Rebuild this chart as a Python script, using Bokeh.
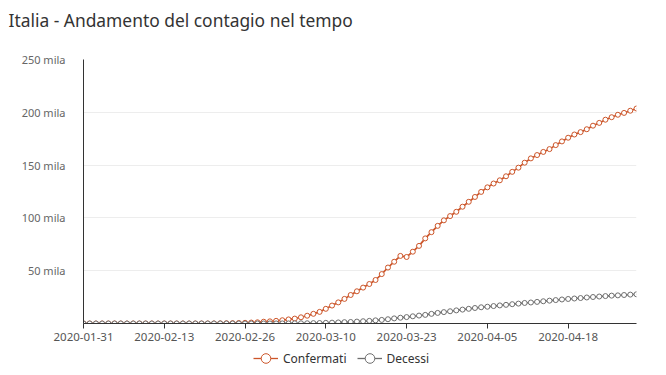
import pandas as pd
from bokeh.plotting import figure
from bokeh.layouts import column
from bokeh.models import Range1d, FixedTicker, Legend, LegendItem, ColumnDataSource
from bokeh.embed import file_html
from bokeh.resources import INLINE

# ---- data ----
dates = [d.strftime("%Y-%m-%d") for d in pd.date_range("2020-01-31", "2020-04-29", freq="D")]

confermati = [
    2,                                                    # Jan 31
    2, 2, 2, 2, 3, 3, 3, 3, 3, 3, 3, 3, 3, 3, 3, 3, 3, 3, 3,  # Feb 1-19
    20, 62, 155, 229, 322, 453, 655, 888, 1128, 1694,     # Feb 20-29
    2036, 2502, 3089, 3858, 4636, 5883, 7375, 9172, 11000, 13900,   # Mar 1-10
    17000, 20000, 23300, 27000, 30500, 34000, 37400, 41200, 46800, 53000,  # Mar 11-20
    58500, 64000, 63000, 68000, 73500, 80589, 86498, 92472, 97689, 101739, 105792,  # Mar 21-31
    110574, 115242, 119827, 124632, 128948, 132547, 135586, 139422, 143626, 147577,  # Apr 1-10
    152271, 156363, 159516, 162488, 165155, 168941, 172434, 175925, 178972, 181228,  # Apr 11-20
    183957, 187327, 189973, 192994, 195351, 197675, 199414, 201505, 203591,          # Apr 21-29
]

decessi = [
    0,
    0, 0, 0, 0, 0, 0, 0, 0, 0, 0, 0, 0, 0, 0, 0, 0, 0, 0, 0,
    0, 1, 2, 3, 7, 10, 12, 17, 21, 29,
    34, 52, 79, 107, 148, 197, 233, 366, 463, 631,
    827, 1016, 1266, 1441, 1809, 2158, 2503, 2978, 3405, 4032,
    4825, 5476, 6077, 6820, 7503, 8165, 9134, 10023, 10779, 11591, 12428,
    13155, 13915, 14681, 15362, 15887, 16523, 17127, 17669, 18279, 18849,
    19468, 19899, 20465, 21067, 21645, 22170, 22745, 23227, 23660, 24114,
    24648, 25085, 25549, 25969, 26384, 26644, 26977, 27359, 27682,
]

x_tick_idx = [0, 13, 26, 39, 52, 65, 78]
y_ticks = [50000, 100000, 150000, 200000, 250000]
y_tick_labels = ["50 mila", "100 mila", "150 mila", "200 mila", "250 mila"]

series_names = ["Confermati", "Decessi"]
series_colors = ["#cc5529", "#6e6e6e"]
title_text = "Italia - Andamento del contagio nel tempo"

FONT = "Noto Sans"

src = ColumnDataSource(dict(x=list(range(len(dates))), conf=confermati, dec=decessi))

# ---- title strip ----
tf = figure(width=666, height=44, output_backend="svg", toolbar_location=None,
            x_range=Range1d(0, 1), y_range=Range1d(0, 1),
            min_border_left=83, min_border_right=30, min_border_top=0, min_border_bottom=0)
tf.axis.visible = False
tf.grid.visible = False
tf.outline_line_color = None
tf.title.text = title_text
tf.title.text_font = FONT
tf.title.text_font_size = "17.4px"
tf.title.text_font_style = "normal"
tf.title.text_color = "#333333"
tf.title.align = "left"
tf.title.offset = -75
tf.title.standoff = 10

# ---- main chart ----
p = figure(width=666, height=301, output_backend="svg", toolbar_location=None,
           x_range=Range1d(0, len(dates) - 1), y_range=Range1d(0, 250000),
           min_border_left=83, min_border_right=30, min_border_top=15, min_border_bottom=22)
p.outline_line_color = None

p.xaxis.ticker = FixedTicker(ticks=x_tick_idx)
p.xaxis.major_label_overrides = {i: dates[i] for i in x_tick_idx}
p.xaxis.axis_line_color = "#333333"
p.xaxis.major_tick_line_color = "#333333"
p.xaxis.major_tick_out = 5
p.xaxis.major_tick_in = 0
p.xaxis.minor_tick_line_color = None
p.xaxis.major_label_text_font = FONT
p.xaxis.major_label_text_font_size = "11.5px"
p.xaxis.major_label_text_color = "#555555"
p.xaxis.major_label_standoff = 4

p.yaxis.ticker = FixedTicker(ticks=y_ticks)
p.yaxis.major_label_overrides = dict(zip(y_ticks, y_tick_labels))
p.yaxis.axis_line_color = "#333333"
p.yaxis.major_tick_line_color = None
p.yaxis.minor_tick_line_color = None
p.yaxis.major_label_text_font = FONT
p.yaxis.major_label_text_font_size = "11px"
p.yaxis.major_label_text_color = "#666666"
p.yaxis.major_label_standoff = 12

p.xgrid.grid_line_color = None
p.ygrid.grid_line_color = "#ededed"
p.ygrid.grid_line_width = 1

for col, color in zip(["conf", "dec"], series_colors):
    p.line("x", col, source=src, line_color=color, line_width=1.7)
    p.scatter("x", col, source=src, marker="circle", size=5, line_color=color,
              line_width=1, fill_color="white")

# ---- legend strip (its ranges keep the series out of view; only legend icons show) ----
lf = figure(width=666, height=30, output_backend="svg", toolbar_location=None,
            x_range=Range1d(-3, -2), y_range=Range1d(-3, -2),
            min_border_left=83, min_border_right=30, min_border_top=0, min_border_bottom=0)
lf.axis.visible = False
lf.grid.visible = False
lf.outline_line_color = None

items = []
for col, name, color in zip(["conf", "dec"], series_names, series_colors):
    ln = lf.line("x", col, source=src, line_color=color, line_width=1.3)
    sc = lf.scatter("x", col, source=src, marker="circle", size=10, line_color=color,
                    line_width=1, fill_color="white")
    items.append(LegendItem(label=name, renderers=[ln, sc]))

legend = Legend(items=items, orientation="horizontal", location=(170, 5),
                label_text_font=FONT, label_text_font_size="12px", label_text_color="#333333",
                glyph_width=25, glyph_height=24, spacing=10, label_standoff=5,
                border_line_color=None, background_fill_alpha=0, padding=2, margin=0)
lf.add_layout(legend, "center")

layout = column(tf, p, lf, spacing=0)

open("out.html", "w").write(file_html(layout, INLINE))
